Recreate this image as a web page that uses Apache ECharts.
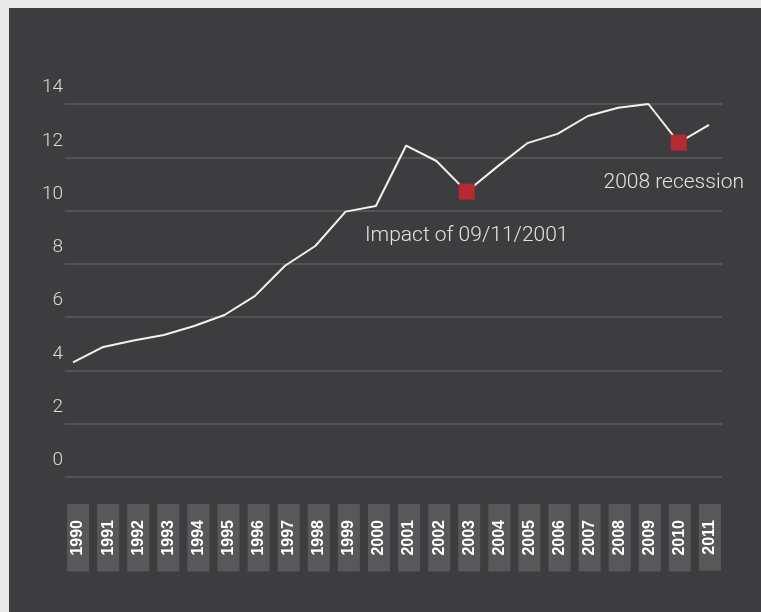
<!DOCTYPE html>
<html>
<head>
<meta charset="utf-8">
<script src="https://cdn.jsdelivr.net/npm/echarts@6/dist/echarts.min.js"></script>
<style>
  html, body { margin: 0; padding: 0; background: #e9e9e9; }
  #chart { width: 761px; height: 612px; }
</style>
</head>
<body>
<div id="chart"></div>
<script>
// Yearly values, 1990-2011
const years = ['1990','1991','1992','1993','1994','1995','1996','1997','1998','1999','2000',
               '2001','2002','2003','2004','2005','2006','2007','2008','2009','2010','2011'];
const values = [4.30, 4.88, 5.12, 5.33, 5.67, 6.08, 6.79, 7.93, 8.67, 9.96, 10.17,
                12.44, 11.86, 10.71, 11.64, 12.53, 12.88, 13.55, 13.86, 14.00, 12.55, 13.22];
const yTicks = [0, 2, 4, 6, 8, 10, 12, 14];

// Highlighted events: year -> caption
const events = [
  { year: '2003', text: 'Impact of 09/11/2001', offset: [0, 44] },
  { year: '2010', text: '2008 recession', offset: [-5, 40] }
];

const textFont = 'Roboto, "Noto Sans", sans-serif';
const yMin = yTicks[0], yMax = yTicks[yTicks.length - 1], yStep = yTicks[1] - yTicks[0];

const lineData = values.map((v, i) => {
  const ev = events.find(e => e.year === years[i]);
  if (!ev) return { value: v, symbol: 'none' };
  return {
    value: v,
    symbol: 'rect',
    symbolSize: 16,
    itemStyle: { color: '#b52a33' },
    label: {
      show: true,
      formatter: ev.text,
      position: 'inside',
      offset: ev.offset,
      color: '#e2e2e2',
      fontFamily: textFont,
      fontSize: 21,
      fontWeight: 300
    }
  };
});

const chart = echarts.init(document.getElementById('chart'), null, { renderer: 'canvas' });

chart.setOption({
  backgroundColor: '#e9e9e9',
  animation: false,
  graphic: [{
    type: 'rect',
    left: 9, top: 8,
    shape: { width: 760, height: 610 },
    style: { fill: '#3d3d3f' },
    z: -10
  }],
  grid: [
    // value grid with horizontal rules
    { left: 65, right: 39, top: 104, bottom: 135 },
    // year label strip
    { left: 63, right: 36, top: 104, bottom: 135 },
    // line series
    { left: 73, right: 52, top: 104, bottom: 135 }
  ],
  xAxis: [
    { gridIndex: 0, type: 'category', data: years, show: false },
    {
      gridIndex: 1, type: 'category', data: years, boundaryGap: true,
      axisLine: { show: false }, axisTick: { show: false },
      axisLabel: {
        interval: 0,
        rotate: 90,
        margin: 27,
        color: '#ffffff',
        fontFamily: '"Liberation Sans", Arial, sans-serif',
        fontWeight: 'bold',
        fontSize: 16,
        lineHeight: 16,
        backgroundColor: '#58585a',
        padding: [3, 16]
      }
    },
    { gridIndex: 2, type: 'category', data: years, boundaryGap: false, show: false }
  ],
  yAxis: [
    {
      gridIndex: 0, type: 'value', min: yMin, max: yMax, interval: yStep,
      axisLine: { show: false }, axisTick: { show: false },
      splitLine: { lineStyle: { color: '#535355', width: 2 } },
      axisLabel: {
        margin: 2,
        color: '#dcdcdc',
        fontFamily: textFont,
        fontSize: 19,
        fontWeight: 300,
        lineHeight: 19,
        verticalAlign: 'bottom',
        padding: [0, 0, 7, 0]
      }
    },
    { gridIndex: 1, type: 'value', min: yMin, max: yMax, show: false },
    { gridIndex: 2, type: 'value', min: yMin, max: yMax, show: false }
  ],
  series: [{
    type: 'line',
    xAxisIndex: 2,
    yAxisIndex: 2,
    data: lineData,
    lineStyle: { color: '#f2f2f2', width: 2 },
    itemStyle: { color: '#f2f2f2' },
    z: 3
  }]
});
</script>
</body>
</html>
